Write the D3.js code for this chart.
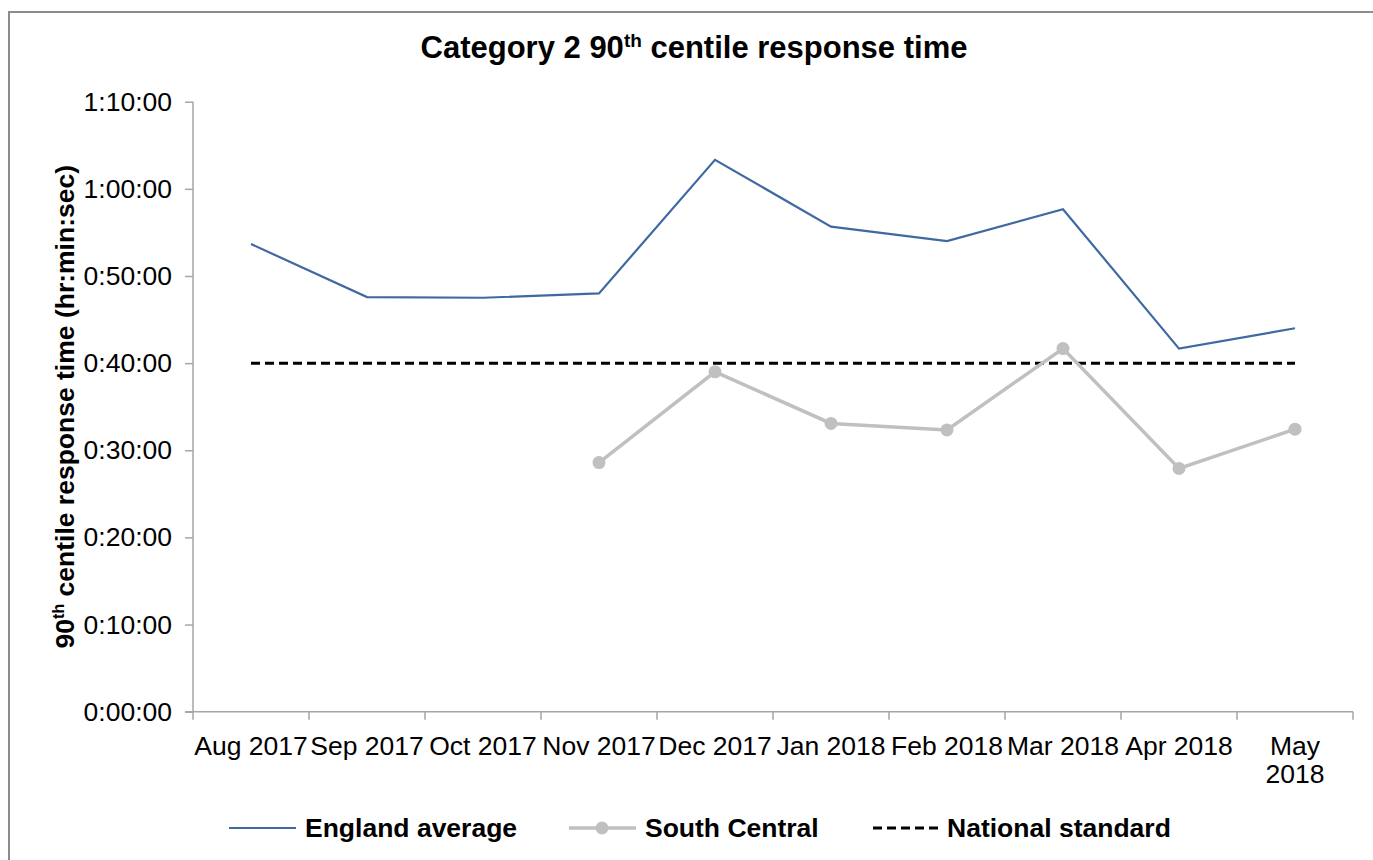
<!DOCTYPE html>
<html>
<head>
<meta charset="utf-8">
<script src="https://cdn.jsdelivr.net/npm/d3@7"></script>
<style>
	body { margin: 0; background: #fff; }
	svg { display: block; font-family: "Liberation Sans", Arial, sans-serif; }
	.axis path, .axis line { stroke: #a6a6a6; stroke-width: 1.5; }
	.axis text { font-size: 26.5px; fill: #000; }
	.legend text { font-size: 26.5px; font-weight: bold; fill: #000; }
</style>
</head>
<body>
<div id="chart"></div>
<script>
// Global vars
var MONTHS = ['Aug 2017', 'Sep 2017', 'Oct 2017', 'Nov 2017', 'Dec 2017',
	'Jan 2018', 'Feb 2018', 'Mar 2018', 'Apr 2018', 'May 2018'];
var ENGLAND_AVG = ['0:53:40', '0:47:35', '0:47:30', '0:48:00', '1:03:20',
	'0:55:40', '0:54:00', '0:57:40', '0:41:40', '0:44:00'];
var SOUTH_CENTRAL = [null, null, null, '0:28:35', '0:39:00',
	'0:33:05', '0:32:20', '0:41:40', '0:27:55', '0:32:25'];
var NATIONAL_STD = '0:40:00';
var Y_TICKS = ['0:00:00', '0:10:00', '0:20:00', '0:30:00', '0:40:00', '0:50:00', '1:00:00', '1:10:00'];

var toSec = function(s) {
	if (s == null) return null;
	var p = s.split(':');
	return +p[0] * 3600 + +p[1] * 60 + +p[2];
};

var fmtTime = function(sec) {
	var h = Math.floor(sec / 3600);
	var m = Math.floor((sec % 3600) / 60);
	var s = sec % 60;
	return h + ':' + String(m).padStart(2, '0') + ':' + String(s).padStart(2, '0');
};

var render = function() {
	var width = 1373, height = 860;
	var plot = { left: 193, right: 1353, top: 101.7, bottom: 711.7 };

	var svg = d3.select('#chart').append('svg')
		.attr('width', width)
		.attr('height', height);

	// chart frame
	svg.append('rect')
		.attr('x', 9).attr('y', 12)
		.attr('width', 1400).attr('height', 900)
		.attr('fill', 'none')
		.attr('stroke', '#8c8c8c')
		.attr('stroke-width', 2);

	// title
	var title = svg.append('text')
		.attr('x', 694).attr('y', 58)
		.attr('text-anchor', 'middle')
		.style('font-size', '31px')
		.style('font-weight', 'bold');
	title.append('tspan').text('Category 2 90');
	title.append('tspan').attr('dy', -11).style('font-size', '19px').text('th');
	title.append('tspan').attr('dy', 11).text(' centile response time');

	var xScale = d3.scaleBand()
		.domain(MONTHS)
		.range([plot.left, plot.right]);

	var yScale = d3.scaleLinear()
		.domain([0, toSec(Y_TICKS[Y_TICKS.length - 1])])
		.range([plot.bottom, plot.top]);

	var cx = function(i) { return xScale(MONTHS[i]) + xScale.bandwidth() / 2; };

	// y axis
	var yAxis = d3.axisLeft(yScale)
		.tickValues(Y_TICKS.map(toSec))
		.tickSize(8)
		.tickPadding(13)
		.tickFormat(fmtTime);

	svg.append('g')
		.attr('class', 'y axis')
		.attr('transform', 'translate(' + plot.left + ',0)')
		.call(yAxis)
		.call(function(g) { g.select('.domain').attr('d', 'M0,' + plot.top + 'V' + plot.bottom); });

	// x axis (ticks between categories)
	var xAxis = svg.append('g')
		.attr('class', 'x axis')
		.attr('transform', 'translate(0,' + plot.bottom + ')');

	xAxis.append('path')
		.attr('class', 'domain')
		.attr('d', 'M' + (plot.left - 8) + ',0H' + plot.right);

	var edges = MONTHS.map(function(m) { return xScale(m); }).concat([plot.right]);
	xAxis.selectAll('line.tick')
		.data(edges)
		.enter()
		.append('line')
		.attr('x1', function(d) { return d; })
		.attr('x2', function(d) { return d; })
		.attr('y1', 0)
		.attr('y2', 8);

	var labels = xAxis.selectAll('text.lbl')
		.data(MONTHS)
		.enter()
		.append('text')
		.attr('class', 'lbl')
		.attr('text-anchor', 'middle')
		.attr('x', function(d, i) { return cx(i); })
		.attr('y', 43);

	labels.each(function(d, i) {
		var t = d3.select(this);
		if (i == MONTHS.length - 1) {
			var parts = d.split(' ');
			t.append('tspan').attr('x', cx(i)).text(parts[0]);
			t.append('tspan').attr('x', cx(i)).attr('dy', 28).text(parts[1]);
		} else {
			t.text(d);
		}
	});

	// y axis title
	var yTitle = svg.append('text')
		.attr('transform', 'translate(74,' + ((plot.top + plot.bottom) / 2) + ') rotate(-90)')
		.attr('text-anchor', 'middle')
		.style('font-size', '26.5px')
		.style('font-weight', 'bold');
	yTitle.append('tspan').text('90');
	yTitle.append('tspan').attr('dy', -10).style('font-size', '16px').text('th');
	yTitle.append('tspan').attr('dy', 10).text(' centile response time (hr:min:sec)');

	// national standard
	var stdSec = toSec(NATIONAL_STD);
	svg.append('path')
		.attr('d', d3.line()([[cx(0), yScale(stdSec)], [cx(MONTHS.length - 1), yScale(stdSec)]]))
		.attr('fill', 'none')
		.attr('stroke', '#000')
		.attr('stroke-width', 3)
		.attr('stroke-dasharray', '9,5');

	var line = d3.line()
		.defined(function(d) { return d.v != null; })
		.x(function(d) { return cx(d.i); })
		.y(function(d) { return yScale(d.v); });

	var engData = ENGLAND_AVG.map(function(v, i) { return { i: i, v: toSec(v) }; });
	var scData = SOUTH_CENTRAL.map(function(v, i) { return { i: i, v: toSec(v) }; });

	svg.append('path')
		.attr('d', line(scData))
		.attr('fill', 'none')
		.attr('stroke', '#c0c0c0')
		.attr('stroke-width', 3.5);

	svg.append('g')
		.selectAll('circle')
		.data(scData.filter(function(d) { return d.v != null; }))
		.enter()
		.append('circle')
		.attr('cx', function(d) { return cx(d.i); })
		.attr('cy', function(d) { return yScale(d.v); })
		.attr('r', 6.5)
		.attr('fill', '#c0c0c0');

	svg.append('path')
		.attr('d', line(engData))
		.attr('fill', 'none')
		.attr('stroke', '#3f69a0')
		.attr('stroke-width', 2.2);

	// legend
	var legend = svg.append('g').attr('class', 'legend');
	var ly = 828;

	legend.append('line')
		.attr('x1', 229).attr('x2', 296).attr('y1', ly).attr('y2', ly)
		.attr('stroke', '#3f69a0').attr('stroke-width', 2.2);
	legend.append('text').attr('x', 305).attr('y', ly + 9).text('England average');

	legend.append('line')
		.attr('x1', 569).attr('x2', 636).attr('y1', ly).attr('y2', ly)
		.attr('stroke', '#c0c0c0').attr('stroke-width', 3.5);
	legend.append('circle')
		.attr('cx', 602).attr('cy', ly).attr('r', 6.5).attr('fill', '#c0c0c0');
	legend.append('text').attr('x', 645).attr('y', ly + 9).text('South Central');

	legend.append('line')
		.attr('x1', 873).attr('x2', 940).attr('y1', ly).attr('y2', ly)
		.attr('stroke', '#000').attr('stroke-width', 3)
		.attr('stroke-dasharray', '9,5');
	legend.append('text').attr('x', 947).attr('y', ly + 9).text('National standard');
};

window.onload = render;
</script>
</body>
</html>
